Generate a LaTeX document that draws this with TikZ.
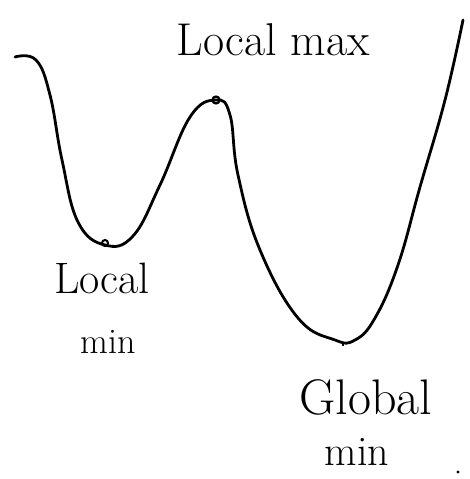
\documentclass[tikz,border=0pt]{standalone}
\begin{document}
\begin{tikzpicture}[x=1pt,y=-1pt,
  curve/.style={line width=2.8pt,line cap=round,line join=round},
  lbl/.style={inner sep=0pt,font=\fontsize{#1}{#1}\selectfont}]
\useasboundingbox (0,0) rectangle (470,479);
\draw[curve] plot[smooth,tension=0.7] coordinates {
 (15,57) (36,60) (50,95) (62,160) (78,222) (105,245)
 (133,236) (160,185) (190,117) (216,100)
 (230,115) (238,175) (260,250) (298,318) (335,340) (355,340)
 (375,318) (398,265) (420,187) (445,100) (463,20)};
\node[draw,circle,line width=2.2pt,minimum size=7pt,inner sep=0pt] (mx) at (216,100) {};
\coordinate (lmin) at (105,243);
\draw[line width=2pt] (lmin) circle (3pt);
\coordinate (gmin) at (343,342);
\draw[line width=2pt] (gmin) -- ++(0,4);
\node[lbl=46] (t1) at (273,40) {Local max};
\node[lbl=44] (t2) at (102,278) {Local};
\node[lbl=36] (t3) at (108,342) {min};
\node[lbl=50] (t4) at (366,397) {Global};
\node[lbl=42] (t5) at (357,452) {min};
\fill (458,472) circle (1.6pt);
\end{tikzpicture}
\end{document}
